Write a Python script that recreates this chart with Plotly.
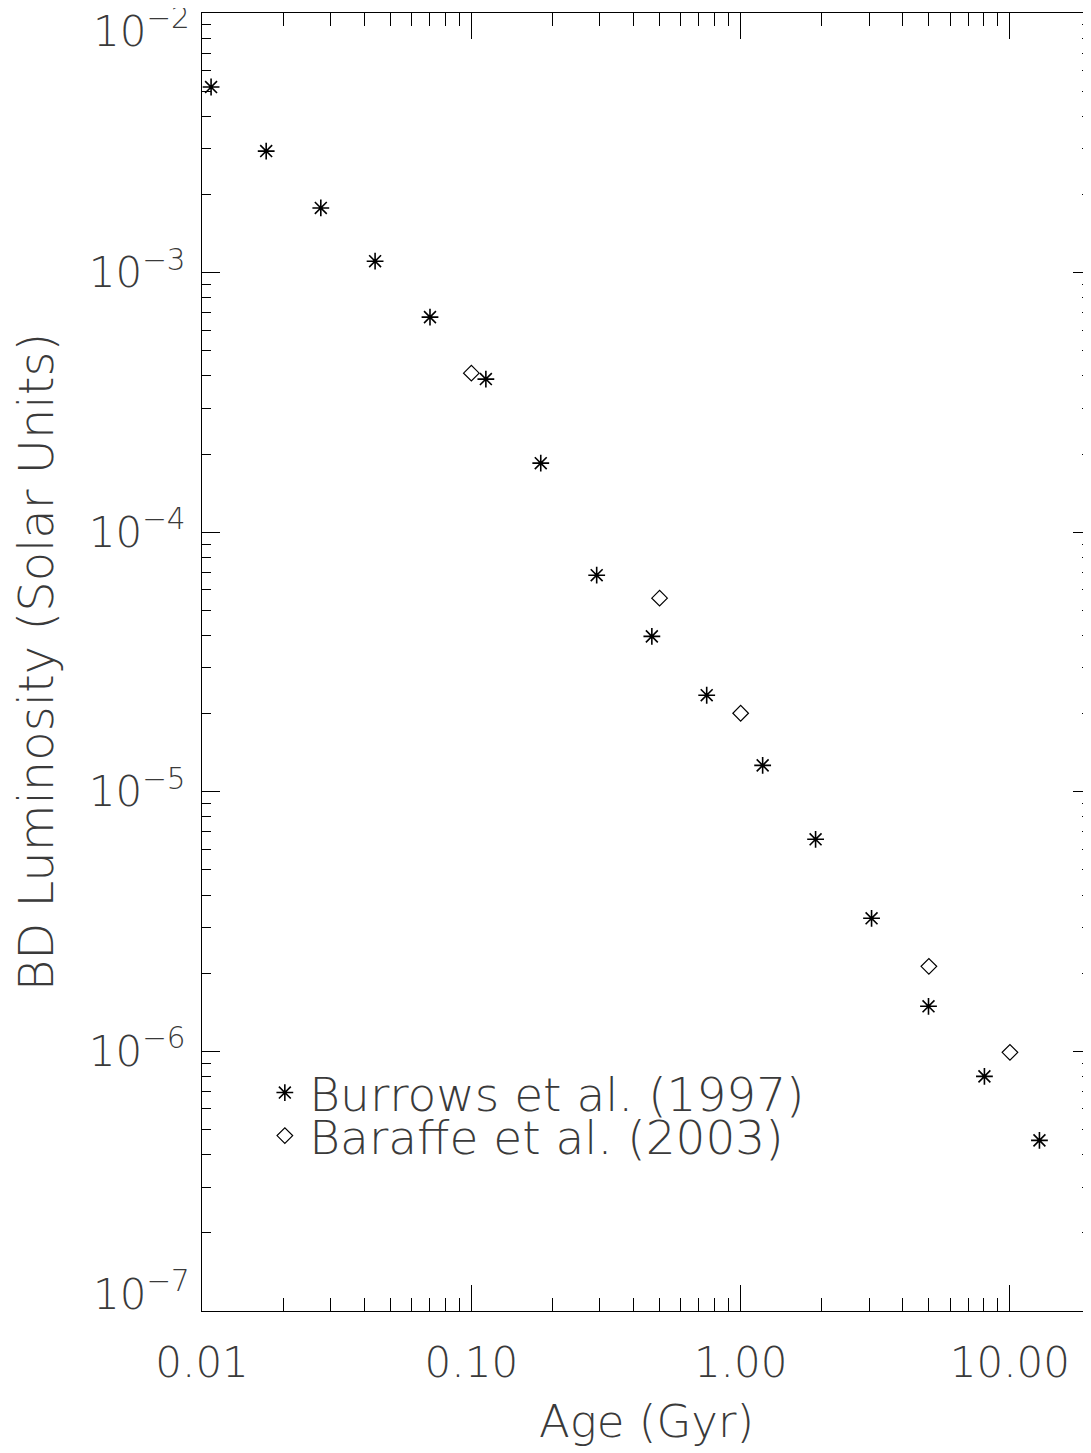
import plotly.graph_objects as go

# Data
burrows_age = [0.0108, 0.0173, 0.0276, 0.0439, 0.0702, 0.1132, 0.181, 0.292,
               0.468, 0.748, 1.207, 1.898, 3.063, 4.984, 8.04, 12.87]
burrows_lum = [5.19e-3, 2.94e-3, 1.775e-3, 1.107e-3, 6.74e-4, 3.89e-4, 1.845e-4, 6.83e-5,
               3.97e-5, 2.355e-5, 1.264e-5, 6.56e-6, 3.255e-6, 1.491e-6, 8.01e-7, 4.54e-7]
baraffe_age = [0.1, 0.5, 1.0, 5.0, 10.0]
baraffe_lum = [4.1e-4, 5.57e-5, 2.007e-5, 2.126e-6, 9.91e-7]

x_tickvals = [0.01, 0.1, 1.0, 10.0]
x_ticktext = ["0.01", "0.10", "1.00", "10.00"]
y_tickvals = [1e-2, 1e-3, 1e-4, 1e-5, 1e-6, 1e-7]
y_ticktext = ["10<sup>\u22122</sup>", "10<sup>\u22123</sup>", "10<sup>\u22124</sup>",
              "10<sup>\u22125</sup>", "10<sup>\u22126</sup>", "10<sup>\u22127</sup>"]

# minor tick positions (2..9 in every decade)
x_minor = [m * 10.0 ** e for e in range(-2, 2) for m in range(2, 10)]
y_minor = [m * 10.0 ** e for e in range(-7, -2) for m in range(2, 10)]

FONT = "DejaVu Sans, sans-serif"
W = 200
TXT = "#3a3a3a"

fig = go.Figure()
fig.add_trace(go.Scatter(
    x=burrows_age, y=burrows_lum, mode="markers", name="Burrows et al. (1997)",
    marker=dict(symbol="asterisk-open", size=14, color="black", line=dict(width=1.6, color="black")),
    legend="legend",
))
fig.add_trace(go.Scatter(
    x=baraffe_age, y=baraffe_lum, mode="markers", name="Baraffe et al. (2003)",
    marker=dict(symbol="diamond-open", size=12, color="black", line=dict(width=1.2, color="black")),
    legend="legend2",
))

axis_common = dict(
    type="log", showgrid=False, zeroline=False, showline=True, linecolor="black",
    linewidth=1.2, mirror="allticks", ticks="inside", tickcolor="black", tickwidth=1.2,
    tickfont=dict(family=FONT, size=42, color=TXT, weight=W),
    automargin=False, ticklabeloverflow="allow",
)

# the end labels of the y axis are pulled inside the axis span (as in the reference)
y_ticktext_axis = [""] + y_ticktext[1:-1] + [""]

fig.update_xaxes(
    **axis_common, range=[-2.0003, 1.30103], tickvals=x_tickvals, ticktext=x_ticktext,
    ticklen=26, ticklabelstandoff=14,
    minor=dict(ticks="inside", ticklen=13, tickcolor="black", tickwidth=1.2, showgrid=False,
               tickvals=x_minor),
    title=dict(text="Age (Gyr)", standoff=19,
               font=dict(family=FONT, size=45, color=TXT, weight=W)),
)
fig.update_yaxes(
    **axis_common, range=[-7.0003, -1.9997], tickvals=y_tickvals, ticktext=y_ticktext_axis,
    ticklen=18, ticklabelstandoff=7,
    minor=dict(ticks="inside", ticklen=9, tickcolor="black", tickwidth=1.2, showgrid=False,
               tickvals=y_minor),
    title=dict(text="BD Luminosity (Solar Units)", standoff=24,
               font=dict(family=FONT, size=48, color=TXT, weight=W)),
)

fig.add_annotation(
    xref="paper", x=0, xanchor="right", xshift=-10,
    yref="y", y=-2, yanchor="top", yshift=14,
    text=y_ticktext[0], showarrow=False,
    font=dict(family=FONT, size=42, color=TXT, weight=W),
)
fig.add_annotation(
    xref="paper", x=0, xanchor="right", xshift=-10,
    yref="y", y=-7, yanchor="bottom", yshift=-10,
    text=y_ticktext[-1], showarrow=False,
    font=dict(family=FONT, size=42, color=TXT, weight=W),
)

leg_common = dict(xanchor="left", yanchor="middle", bgcolor="rgba(0,0,0,0)",
                  font=dict(family=FONT, size=47, color=TXT, weight=W), itemwidth=39)
# page has an 8px body margin: figure is shifted by 8px right/down
fig.update_layout(
    width=1083, height=1445,
    margin=dict(l=194, r=0, t=5, b=142),
    paper_bgcolor="white", plot_bgcolor="white",
    showlegend=True,
    legend=dict(x=0.06 + 5 / 889, y=1 - (1093 - 13) / 1298, **leg_common),
    legend2=dict(x=0.06 + 5 / 889, y=1 - (1136 - 13) / 1298, **leg_common),
)

fig.write_html("out.html")
